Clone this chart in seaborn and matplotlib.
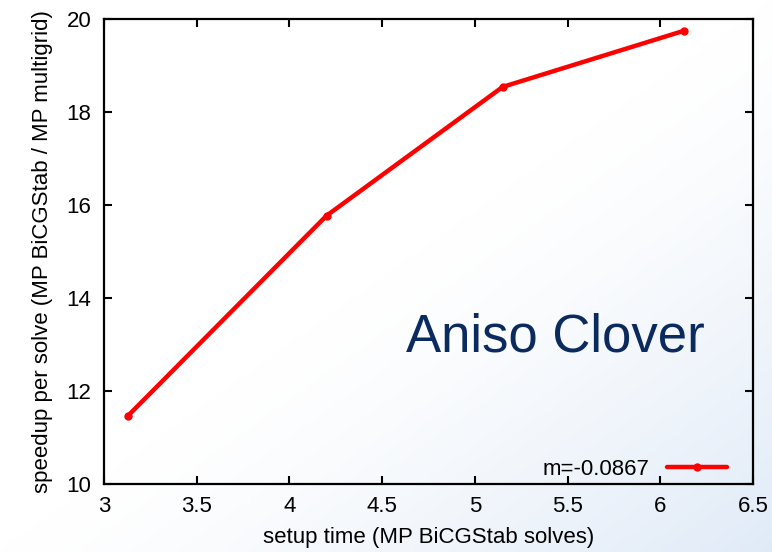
import numpy as np
import pandas as pd
from matplotlib import pyplot as plt
import seaborn as sns

# data
setup_time = [3.13, 4.20, 5.15, 6.13]
speedup = [11.47, 15.77, 18.54, 19.75]
legend_label = "m=-0.0867"

df = pd.DataFrame({"setup": setup_time, "speedup": speedup, "series": legend_label})

sns.set_style("ticks")
plt.rcParams['font.family'] = ['Liberation Sans', 'DejaVu Sans']
plt.rcParams['text.color'] = 'black'
plt.rcParams['axes.labelcolor'] = 'black'

fig = plt.figure(figsize=(7.72, 5.52), dpi=100)

# soft white -> light blue background
bg = fig.add_axes([0, 0, 1, 1], zorder=-1)
gx, gy = np.meshgrid(np.linspace(0, 1, 200), np.linspace(0, 1, 200))
t = np.clip((gx + gy - 1.0) / 1.0, 0, 1) ** 1.3
img = np.ones((200, 200, 3))
img[..., 0] = 1 - t * 0.12
img[..., 1] = 1 - t * 0.08
img[..., 2] = 1 - t * 0.03
bg.imshow(img, aspect='auto', extent=[0, 1, 0, 1], origin='upper')
bg.axis('off')

ax = fig.add_axes([104 / 772, 1 - 484 / 552, 649 / 772, 465 / 552])
ax.patch.set_alpha(0)

sns.lineplot(data=df, x="setup", y="speedup", hue="series", palette=["#ff0000"],
             marker="o", markersize=6, markeredgewidth=0, linewidth=3.2, ax=ax)

ax.set_xlim(3, 6.5)
ax.set_ylim(10, 20)
ax.set_xticks(np.arange(3, 6.51, 0.5))
ax.set_xticklabels(["3", "3.5", "4", "4.5", "5", "5.5", "6", "6.5"])
ax.set_yticks([10, 12, 14, 16, 18, 20])
ax.tick_params(direction='in', top=True, right=True, length=6, width=1.5,
               labelsize=16, colors='black')
ax.tick_params(axis='x', pad=9)
ax.tick_params(axis='y', pad=9)
for s in ax.spines.values():
    s.set_linewidth(1.6)
    s.set_color('black')

ax.set_xlabel("setup time (MP BiCGStab solves)", fontsize=16, labelpad=7)
ax.set_ylabel("speedup per solve (MP BiCGStab / MP multigrid)", fontsize=16, labelpad=10)

ax.text(0.695, 0.284, "Aniso Clover", transform=ax.transAxes, ha='center',
        va='baseline', fontsize=38, color='#0b2a5e')

ax.legend(loc='lower right', bbox_to_anchor=(0.991, -0.035), frameon=False,
          markerfirst=False, handlelength=2.7, fontsize=16, handletextpad=0.8,
          labelcolor='black')

plt.savefig("out.png", dpi=100)
